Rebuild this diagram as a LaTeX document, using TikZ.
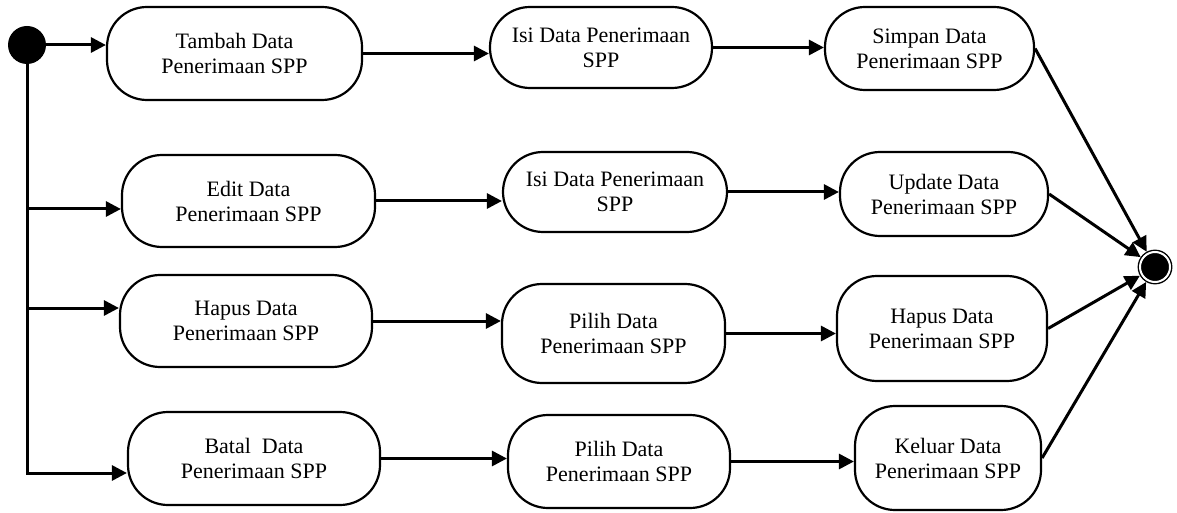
\documentclass[tikz,border=0pt]{standalone}
\usepackage{fontspec}
\setmainfont{Liberation Serif}
\usetikzlibrary{arrows.meta}

\begin{document}
\begin{tikzpicture}[x=0.5pt, y=-0.5pt,
    aksi/.style={draw, line width=1.1pt, rounded corners=20pt, align=center,
        font=\fontsize{11}{12.5}\selectfont, inner sep=2pt},
    alur/.style={line width=1.5pt, -{Triangle[length=7.5pt,width=7.5pt]}}]
    \useasboundingbox (0,0) rectangle (1177,513);
    % Titik awal dan titik akhir
    \node[circle, fill, inner sep=0pt, minimum size=19pt] (S) at (27,45) {};
    \node[circle, fill, draw, double=white, double distance=1pt, line width=0.7pt,
        inner sep=0pt, minimum size=15pt, outer sep=1.2pt] (E) at (1155,267) {};
    % Kolom pertama
    \node[aksi, minimum width=127.5pt, minimum height=46.5pt] (A1) at (234.5,53.5) {Tambah Data\\Penerimaan SPP};
    \node[aksi, minimum width=126.5pt, minimum height=46pt] (A2) at (248.5,201) {Edit Data\\Penerimaan SPP};
    \node[aksi, minimum width=126pt, minimum height=46pt] (A3) at (246,321) {Hapus Data\\Penerimaan SPP};
    \node[aksi, minimum width=126pt, minimum height=46.5pt] (A4) at (254,458.5) {Batal~ Data\\Penerimaan SPP};
    % Kolom kedua
    \node[aksi, minimum width=111pt, minimum height=40.5pt] (B1) at (601,47.5) {Isi Data Penerimaan\\SPP};
    \node[aksi, minimum width=112pt, minimum height=40pt] (B2) at (615,192) {Isi Data Penerimaan\\SPP};
    \node[aksi, minimum width=111.5pt, minimum height=49.5pt] (B3) at (613.5,333.5) {Pilih Data\\Penerimaan SPP};
    \node[aksi, minimum width=111pt, minimum height=46.5pt] (B4) at (619,461.5) {Pilih Data\\Penerimaan SPP};
    % Kolom ketiga
    \node[aksi, minimum width=104.5pt, minimum height=41.5pt] (C1) at (929.5,48.5) {Simpan Data\\Penerimaan SPP};
    \node[aksi, minimum width=104pt, minimum height=42pt] (C2) at (944,194) {Update Data\\Penerimaan SPP};
    \node[aksi, minimum width=105pt, minimum height=52.5pt] (C3) at (942,328.5) {Hapus Data\\Penerimaan SPP};
    \node[aksi, minimum width=93pt, minimum height=52pt] (C4) at (948,458) {Keluar Data\\Penerimaan SPP};
    % Cabang dari titik awal
    \coordinate (J2) at (27,209);
    \coordinate (J3) at (27,308);
    \coordinate (J4) at (27,473);
    \draw[alur] (S) -- (S -| A1.west);
    \draw[alur] (S) -- (J4) -- (J4 -| A4.west);
    \draw[alur] (J2) -- (J2 -| A2.west);
    \draw[alur] (J3) -- (J3 -| A3.west);
    % Alur tiap baris
    \foreach \i in {1,...,4} {
        \draw[alur] (A\i.east) -- (A\i.east -| B\i.west);
        \draw[alur] (B\i.east) -- (B\i.east -| C\i.west);
        \draw[alur] (C\i.east) -- (E);
    }
\end{tikzpicture}
\end{document}
